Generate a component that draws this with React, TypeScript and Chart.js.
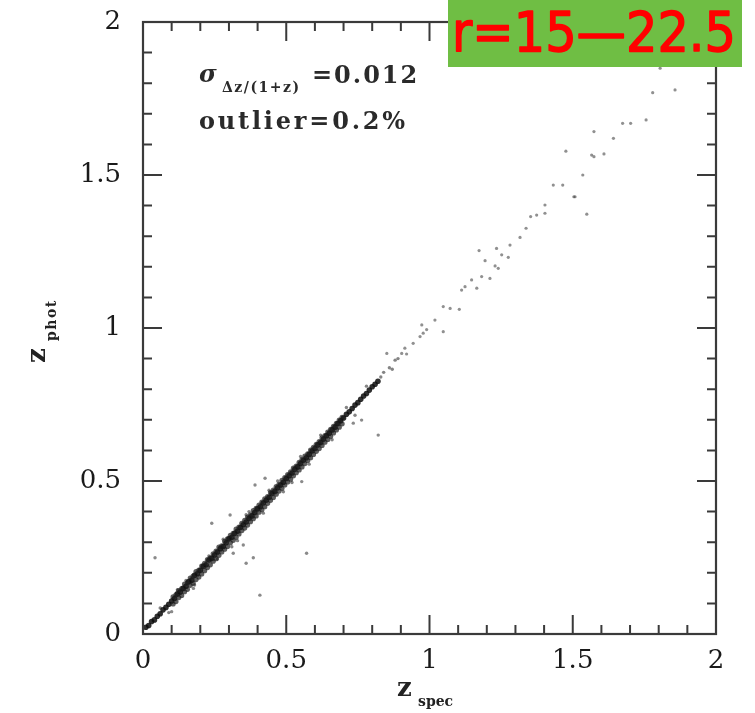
import React, { useEffect, useRef } from 'react';
import { Chart, registerables } from 'chart.js';
Chart.register(...registerables);

// ---- axis definitions ----
const axisTickValues = [0, 0.5, 1, 1.5, 2];
const axisTickLabels = ['0', '0.5', '1', '1.5', '2'];
const axisMin = 0;
const axisMax = 2;
const minorStep = 0.1;

// ---- dense core band: z_spec / z_phot ----
const specCore = [0.01,0.02,0.03,0.04,0.05,0.06,0.07,0.08,0.09,0.10,0.11,0.12,0.13,0.14,0.15,0.16,0.17,0.18,0.19,0.20,0.21,0.22,0.23,0.24,0.25,0.26,0.27,0.28,0.29,0.30,0.31,0.32,0.33,0.34,0.35,0.36,0.37,0.38,0.39,0.40,0.41,0.42,0.43,0.44,0.45,0.46,0.47,0.48,0.49,0.50,0.51,0.52,0.53,0.54,0.55,0.56,0.57,0.58,0.59,0.60,0.61,0.62,0.63,0.64,0.65,0.66,0.67,0.68,0.69,0.70,0.71,0.72,0.73,0.74,0.75,0.76,0.77,0.78,0.79,0.80,0.81,0.82];
const photCore = [0.022,0.028,0.041,0.046,0.058,0.066,0.079,0.087,0.097,0.108,0.116,0.131,0.137,0.149,0.156,0.171,0.176,0.192,0.197,0.208,0.221,0.226,0.241,0.247,0.258,0.268,0.279,0.286,0.298,0.311,0.316,0.329,0.336,0.348,0.357,0.366,0.378,0.386,0.397,0.409,0.416,0.428,0.437,0.446,0.459,0.466,0.478,0.487,0.496,0.508,0.517,0.526,0.538,0.546,0.557,0.568,0.576,0.587,0.598,0.606,0.618,0.626,0.637,0.648,0.656,0.667,0.676,0.688,0.697,0.706,0.718,0.726,0.737,0.748,0.756,0.767,0.778,0.786,0.797,0.808,0.816,0.826];

const specUpper = [0.105,0.115,0.125,0.135,0.145,0.155,0.165,0.175,0.185,0.195,0.205,0.215,0.225,0.235,0.245,0.255,0.265,0.275,0.285,0.295,0.305,0.315,0.325,0.335,0.345,0.355,0.365,0.375,0.385,0.395,0.405,0.415,0.425,0.435,0.445,0.455,0.465,0.475,0.485,0.495,0.505,0.515,0.525,0.535,0.545,0.555,0.565,0.575,0.585,0.595,0.605,0.615,0.625,0.635,0.645,0.655,0.665,0.675,0.685,0.695];
const photUpper = [0.121,0.128,0.142,0.148,0.163,0.168,0.183,0.189,0.204,0.209,0.222,0.231,0.243,0.249,0.262,0.271,0.284,0.288,0.303,0.311,0.322,0.329,0.343,0.349,0.362,0.371,0.382,0.389,0.403,0.411,0.421,0.431,0.442,0.449,0.462,0.470,0.482,0.489,0.502,0.511,0.521,0.530,0.542,0.549,0.561,0.570,0.581,0.589,0.601,0.610,0.620,0.629,0.641,0.648,0.660,0.669,0.679,0.688,0.699,0.708];

const specLower = [0.105,0.115,0.125,0.135,0.145,0.155,0.165,0.175,0.185,0.195,0.205,0.215,0.225,0.235,0.245,0.255,0.265,0.275,0.285,0.295,0.305,0.315,0.325,0.335,0.345,0.355,0.365,0.375,0.385,0.395,0.405,0.415,0.425,0.435,0.445,0.455,0.465,0.475,0.485,0.495,0.505,0.515,0.525,0.535,0.545,0.555,0.565,0.575,0.585,0.595,0.605,0.615,0.625,0.635,0.645,0.655,0.665,0.675,0.685,0.695];
const photLower = [0.098,0.106,0.119,0.126,0.138,0.146,0.159,0.166,0.178,0.186,0.196,0.207,0.217,0.226,0.238,0.246,0.257,0.268,0.277,0.286,0.298,0.306,0.316,0.327,0.338,0.346,0.356,0.367,0.377,0.386,0.398,0.406,0.416,0.427,0.437,0.446,0.457,0.467,0.476,0.487,0.497,0.506,0.517,0.527,0.536,0.546,0.557,0.567,0.576,0.587,0.597,0.606,0.616,0.627,0.636,0.646,0.657,0.667,0.676,0.687];

// ---- points scattered just around the band ----
const specNear = [0.28,0.26,0.33,0.37,0.42,0.47,0.52,0.23,0.31,0.36,0.44,0.49,0.55,0.58,0.62,0.66,0.71,0.74,0.78,0.15,0.18,0.12,0.09,0.06,0.83,0.84,0.86,0.87,0.88,0.89];
const photNear = [0.31,0.245,0.305,0.40,0.395,0.50,0.495,0.255,0.285,0.39,0.47,0.465,0.58,0.555,0.65,0.635,0.74,0.715,0.81,0.175,0.16,0.145,0.07,0.085,0.84,0.855,0.87,0.865,0.895,0.90];

// ---- sparse high-redshift points ----
const specHigh = [0.851,0.903,0.914,0.92,0.943,0.967,0.973,0.978,0.99,1.019,1.048,1.072,1.104,1.048,1.112,1.124,1.165,1.147,1.182,1.211,1.229,1.240,1.194,1.173,1.234,1.252,1.275,1.281,1.316,1.337,1.353,1.374,1.403,1.403,1.432,1.465,1.504,1.549,1.508,1.535,1.476,1.566,1.574,1.609,1.574,1.642,1.674,1.702,1.756,1.779,1.857,1.805];
const photHigh = [0.917,0.917,0.934,0.915,0.950,0.972,1.010,0.983,0.995,1.026,1.070,1.064,1.061,0.988,1.124,1.135,1.130,1.157,1.168,1.162,1.203,1.195,1.220,1.253,1.260,1.239,1.231,1.271,1.296,1.326,1.364,1.369,1.402,1.375,1.467,1.467,1.429,1.372,1.429,1.500,1.578,1.565,1.560,1.569,1.642,1.620,1.669,1.669,1.680,1.769,1.778,1.849];

// ---- catastrophic outliers ----
const specOut = [0.042,0.240,0.385,0.360,0.408,0.315,0.350,0.176,0.100,0.391,0.304,0.571,0.821,0.426,0.554,0.763,0.734];
const photOut = [0.249,0.362,0.249,0.231,0.127,0.264,0.291,0.149,0.073,0.487,0.389,0.264,0.650,0.509,0.498,0.699,0.689];

// ---- text ----
const xTitleMain = 'z';
const xTitleSub = 'spec';
const yTitleMain = 'z';
const yTitleSub = 'phot';
const sigmaLabel = 'σ';
const sigmaSub = 'Δz/(1+z)';
const sigmaValue = '=0.012';
const outlierText = 'outlier=0.2%';
const badgeText = 'r=15—22.5';

const pts = (xs: number[], ys: number[]) => xs.map((v, i) => ({ x: v, y: ys[i] }));

const framePlugin = {
  id: 'framePlugin',
  afterDatasetsDraw(chart: any) {
    const { ctx, chartArea: a, scales } = chart;
    const xs = scales.x;
    const ys = scales.y;
    ctx.save();
    ctx.strokeStyle = '#3a3a3a';
    ctx.lineWidth = 2.2;
    ctx.strokeRect(a.left, a.top, a.right - a.left, a.bottom - a.top);
    ctx.lineWidth = 2;
    const n = Math.round((axisMax - axisMin) / minorStep);
    for (let i = 0; i <= n; i++) {
      const v = axisMin + i * minorStep;
      const major = i % 5 === 0;
      const len = major ? 19 : 9;
      const px = xs.getPixelForValue(v);
      const py = ys.getPixelForValue(v);
      ctx.beginPath();
      ctx.moveTo(px, a.bottom); ctx.lineTo(px, a.bottom - len);
      ctx.moveTo(px, a.top); ctx.lineTo(px, a.top + len);
      ctx.moveTo(a.left, py); ctx.lineTo(a.left + len, py);
      ctx.moveTo(a.right, py); ctx.lineTo(a.right - len, py);
      ctx.stroke();
    }

    // axis titles
    ctx.fillStyle = '#222';
    ctx.textBaseline = 'alphabetic';
    ctx.textAlign = 'left';
    ctx.font = 'bold 26px "DejaVu Serif"';
    ctx.fillText(xTitleMain, 397, 696);
    ctx.font = 'bold 14px "DejaVu Serif"';
    ctx.fillText(xTitleSub, 418, 706);

    // y title rotated
    ctx.save();
    ctx.rotate(-Math.PI / 2);
    ctx.font = 'bold 26px "DejaVu Serif"';
    ctx.fillText(yTitleMain, -363, 45);
    ctx.font = 'bold 14px "DejaVu Serif"';
    (ctx as any).letterSpacing = '1.5px';
    ctx.fillText(yTitleSub, -341, 56);
    (ctx as any).letterSpacing = '0px';
    ctx.restore();

    // annotation
    ctx.fillStyle = '#2a2a2a';
    ctx.font = 'italic bold 24px "DejaVu Serif"';
    ctx.fillText(sigmaLabel, 199, 82);
    ctx.font = 'bold 14px "DejaVu Serif"';
    (ctx as any).letterSpacing = '1.5px';
    ctx.fillText(sigmaSub, 222, 92);
    (ctx as any).letterSpacing = '2px';
    ctx.font = 'bold 24px "DejaVu Serif"';
    ctx.fillText(sigmaValue, 312, 83);
    (ctx as any).letterSpacing = '2.8px';
    ctx.fillText(outlierText, 199, 129);
    (ctx as any).letterSpacing = '0px';

    // badge
    ctx.fillStyle = '#6fbe44';
    ctx.fillRect(448, 0, 294, 67);
    ctx.fillStyle = '#ff0000';
    ctx.strokeStyle = '#ff0000';
    ctx.lineWidth = 1.5;
    ctx.lineJoin = 'round';
    ctx.font = '56px "DejaVu Sans"';
    ctx.fillText(badgeText, 452, 51, 284);
    ctx.strokeText(badgeText, 452, 51, 284);
    ctx.restore();
  },
};

export default function App() {
  const ref = useRef<HTMLCanvasElement>(null);
  useEffect(() => {
    document.body.style.margin = '0';
    const canvas = ref.current!;
    const fmt = (v: any) => {
      const i = axisTickValues.indexOf(Number(v));
      return i >= 0 ? axisTickLabels[i] : '';
    };
    const zeroPad = (s: any) => { s.paddingTop = 0; s.paddingBottom = 0; s.paddingLeft = 0; s.paddingRight = 0; };
    const chart = new Chart(canvas, {
      type: 'scatter',
      data: {
        datasets: [
          { data: pts(specUpper, photUpper), backgroundColor: 'rgba(25,25,25,0.7)', borderWidth: 0, pointRadius: 2.6 },
          { data: pts(specLower, photLower), backgroundColor: 'rgba(25,25,25,0.7)', borderWidth: 0, pointRadius: 2.6 },
          { data: pts(specCore, photCore), backgroundColor: 'rgba(10,10,10,0.85)', borderWidth: 0, pointRadius: 2.8 },
          { data: pts(specNear, photNear), backgroundColor: 'rgba(50,50,50,0.6)', borderWidth: 0, pointRadius: 1.7 },
          { data: pts(specHigh, photHigh), backgroundColor: 'rgba(70,70,70,0.6)', borderWidth: 0, pointRadius: 1.6 },
          { data: pts(specOut, photOut), backgroundColor: 'rgba(60,60,60,0.6)', borderWidth: 0, pointRadius: 1.7 },
        ],
      },
      options: {
        responsive: false,
        animation: false,
        layout: { padding: { top: 22, right: 39, left: 0, bottom: 0 } },
        plugins: { legend: { display: false }, tooltip: { enabled: false } },
        scales: {
          x: {
            type: 'linear', min: axisMin, max: axisMax,
            grid: { display: false, drawTicks: false }, border: { display: false },
            afterBuildTicks: (s: any) => { s.ticks = axisTickValues.map((v) => ({ value: v })); },
            afterFit: (s: any) => { s.height = 79; zeroPad(s); },
            ticks: { padding: 12, color: '#1a1a1a', font: { family: '"DejaVu Serif"', size: 26 }, maxRotation: 0, callback: fmt },
          },
          y: {
            type: 'linear', min: axisMin, max: axisMax,
            grid: { display: false, drawTicks: false }, border: { display: false },
            afterBuildTicks: (s: any) => { s.ticks = axisTickValues.map((v) => ({ value: v })); },
            afterFit: (s: any) => { s.width = 143; zeroPad(s); },
            ticks: { padding: 22, color: '#1a1a1a', font: { family: '"DejaVu Serif"', size: 26 }, callback: fmt },
          },
        },
      },
      plugins: [framePlugin],
    });
    return () => chart.destroy();
  }, []);
  return <canvas ref={ref} width={755} height={713} style={{ display: 'block' }} />;
}
